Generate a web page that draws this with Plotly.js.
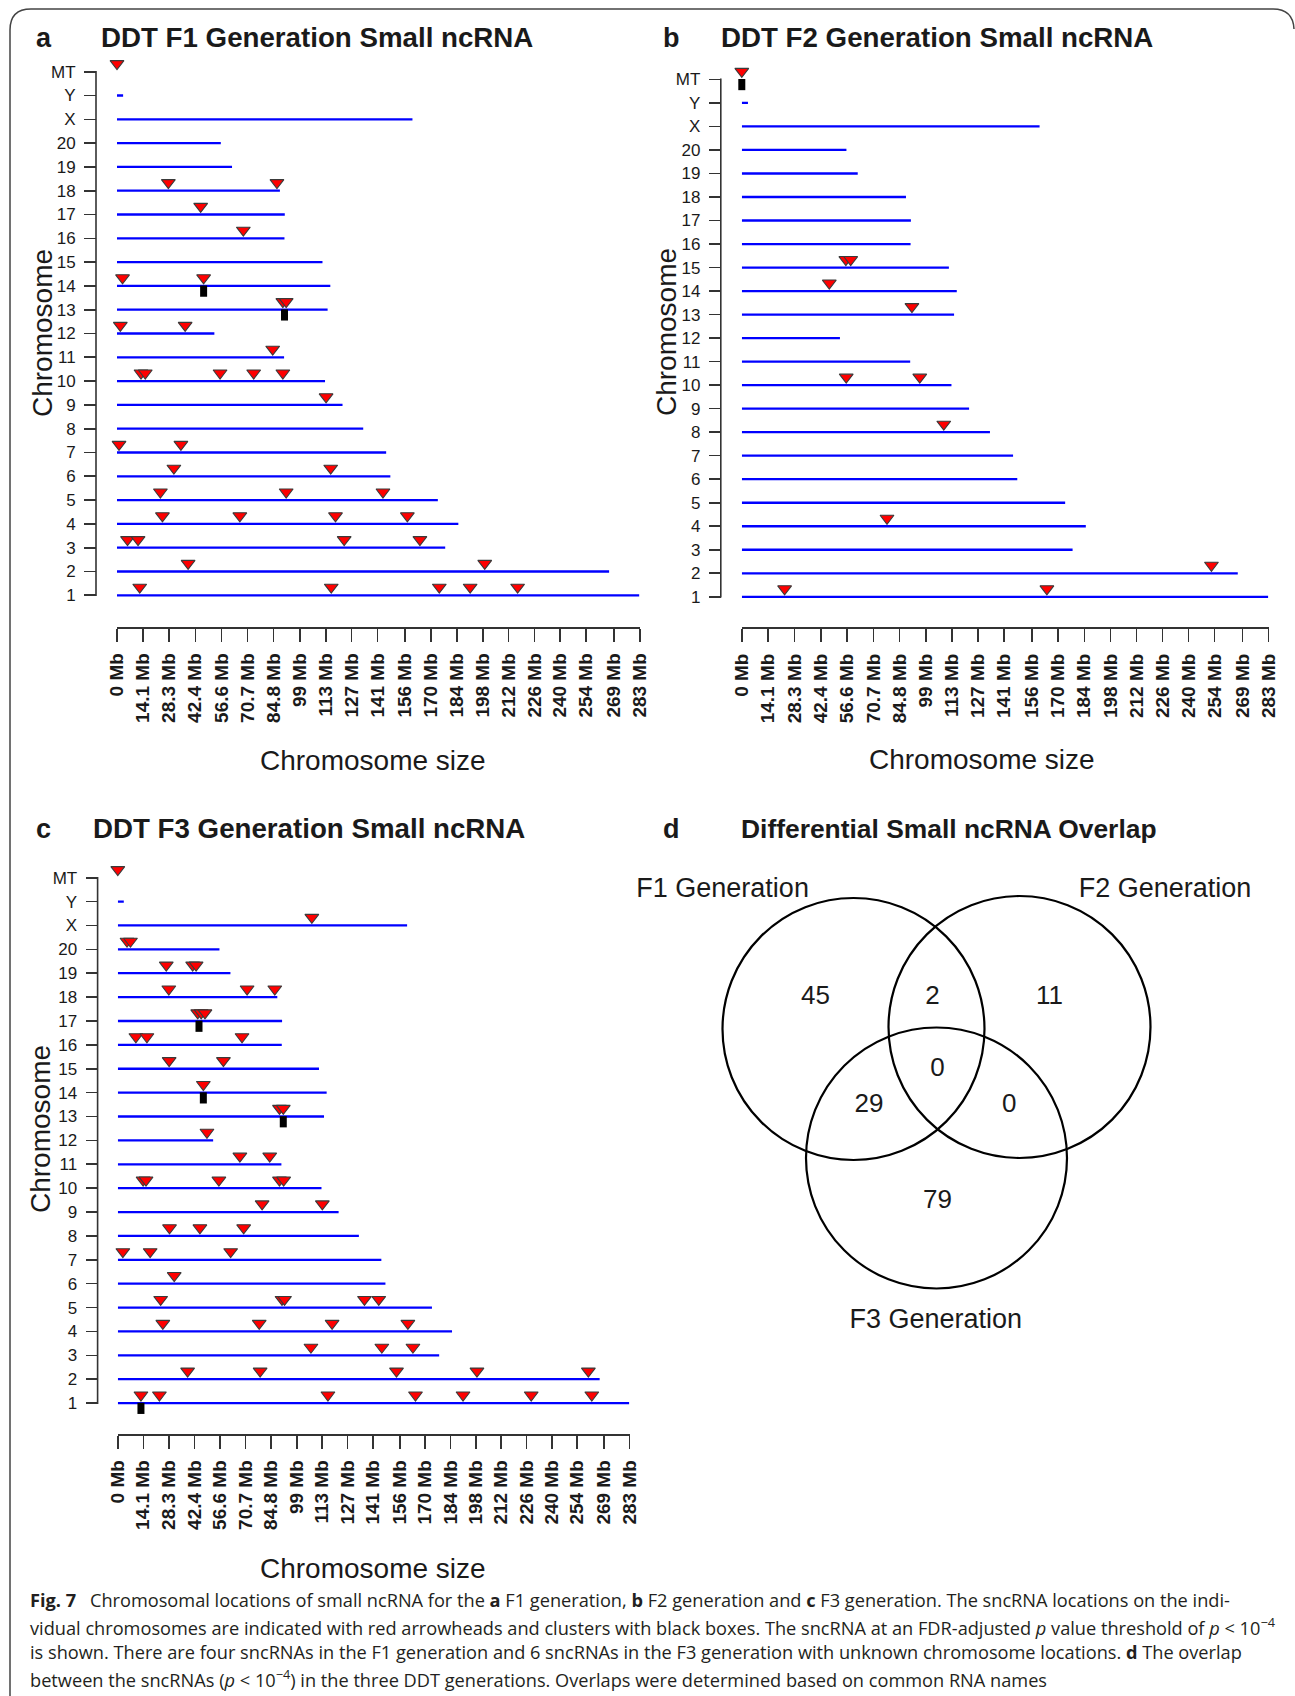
<!DOCTYPE html>
<html><head><meta charset="utf-8">
<script src="https://cdn.plot.ly/plotly-3.0.1.min.js"></script>
<style>html,body{margin:0;padding:0;background:#fff;}#chart{width:1295px;height:1696px;}</style>
</head><body><div id="chart"></div>
<script>
// ---------------- DATA ----------------
const chromLabels = ['1','2','3','4','5','6','7','8','9','10','11','12','13','14','15','16','17','18','19','20','X','Y','MT'];
const chromLengthMb = [282.76,266.44,177.70,184.81,173.71,147.99,145.73,133.31,122.10,112.63,90.46,52.72,114.03,115.49,111.25,90.67,90.84,88.20,62.28,56.21,159.97,3.31,0.016];
const sizeTickLabels = ['0 Mb','14.1 Mb','28.3 Mb','42.4 Mb','56.6 Mb','70.7 Mb','84.8 Mb','99 Mb','113 Mb','127 Mb','141 Mb','156 Mb','170 Mb','184 Mb','198 Mb','212 Mb','226 Mb','240 Mb','254 Mb','269 Mb','283 Mb'];

// F1 generation sncRNA locations
const f1Chrom = ['MT','18','18','17','16','14','14','13','13','12','12','11','10','10','10','10','10','9','7','7','6','6','5','5','5','4','4','4','4','3','3','3','3','2','2','1','1','1','1','1'];
const f1PosMb = [0,27.8,86.6,45.3,68.4,3.0,46.9,89.8,91.6,1.8,36.9,84.3,13.0,15.3,55.8,74.0,89.8,113.2,1.1,34.6,30.8,115.7,23.5,91.6,144.0,24.6,66.5,118.3,157.2,5.7,11.4,123.0,164.0,38.5,199.1,12.3,116.0,174.5,191.2,216.9];
const f1ClusterChrom = ['14','13'];
const f1ClusterPosMb = [46.9,90.7];

// F2 generation sncRNA locations
const f2Chrom = ['MT','15','15','14','13','10','10','8','4','2','1','1'];
const f2PosMb = [0,55.9,58.5,47.0,91.4,56.1,95.6,108.5,78.0,252.3,23.0,163.9];
const f2ClusterChrom = ['MT'];
const f2ClusterPosMb = [0];

// F3 generation sncRNA locations
const f3Chrom = ['MT','X','20','20','19','19','19','18','18','18','17','17','17','16','16','16','15','15','14','13','13','12','11','11','10','10','10','10','10','9','9','8','8','8','7','7','7','6','5','5','5','5','5','4','4','4','4','3','3','3','2','2','2','2','2','1','1','1','1','1','1','1'];
const f3PosMb = [0,107.3,5.1,7.0,26.8,41.4,43.3,28.2,71.5,86.8,44.2,46.1,48.2,10.0,16.1,68.7,28.4,58.4,47.3,89.4,91.5,49.3,67.5,84.0,14.0,15.6,55.9,89.4,91.7,79.8,113.1,28.6,45.4,69.6,2.8,17.9,62.4,31.2,23.7,90.8,92.2,136.4,144.3,24.9,78.2,118.5,160.4,106.8,146.0,163.2,38.6,78.7,154.1,198.6,260.2,12.8,23.0,116.2,164.6,190.9,228.6,262.1];
const f3ClusterChrom = ['17','14','13','1'];
const f3ClusterPosMb = [44.9,47.3,91.5,12.8];

// Venn diagram
const vennSets = ['F1 Generation','F2 Generation','F3 Generation'];
const vennRegions = ['F1 only','F1 & F2','F2 only','F1 & F2 & F3','F1 & F3','F2 & F3','F3 only'];
const vennCounts = [45,2,11,0,29,0,79];

// ---------------- LAYOUT HELPERS ----------------
const W = 1295, H = 1696;
const fx = p => p / W;
const fy = p => 1 - p / H;
const FONT = 'Liberation Sans, Arial, Helvetica, sans-serif';
const INK = '#1a1a1a';
const AXC = '#333333';

const panels = [
  {letter:'a', title:'DDT F1 Generation Small ncRNA', chrom:f1Chrom, pos:f1PosMb, cChrom:f1ClusterChrom, cPos:f1ClusterPosMb,
   yLineX:96, yTop:71.7, yBot:595.3, x0:117, x1:639.7, xAxisY:627, letterX:44, titleX:99, titleY:38, yTitleX:42, yTitleY:333, xTitleX:372.5, xTitleY:760},
  {letter:'b', title:'DDT F2 Generation Small ncRNA', chrom:f2Chrom, pos:f2PosMb, cChrom:f2ClusterChrom, cPos:f2ClusterPosMb,
   yLineX:720.8, yTop:79.4, yBot:596.8, x0:741.8, x1:1268.6, xAxisY:627.4, letterX:671, titleX:719, titleY:38, yTitleX:666, yTitleY:332, xTitleX:982, xTitleY:759},
  {letter:'c', title:'DDT F3 Generation Small ncRNA', chrom:f3Chrom, pos:f3PosMb, cChrom:f3ClusterChrom, cPos:f3ClusterPosMb,
   yLineX:97.6, yTop:877.7, yBot:1403.1, x0:117.8, x1:629.6, xAxisY:1434, letterX:43, titleX:91, titleY:829, yTitleX:40, yTitleY:1129, xTitleX:372.5, xTitleY:1568}
];

const traces = [];
const layout = {
  width: W, height: H,
  margin: {l:0, r:0, t:0, b:0, pad:0},
  paper_bgcolor: '#ffffff', plot_bgcolor: 'rgba(0,0,0,0)',
  showlegend: false,
  font: {family: FONT, color: INK},
  annotations: [], shapes: []
};

const chromIndex = c => chromLabels.indexOf(c) + 1;
const sizeTickVals = sizeTickLabels.map(s => parseFloat(s));
const nChrom = chromLabels.length;
const EXT = 0.7; // extra room (in rows) above MT and below chr 1 so no mark is hidden

panels.forEach((p, i) => {
  const n = i === 0 ? '' : String(i + 1);
  const xa = 'x' + n, ya = 'y' + n;
  const ppu = (p.yBot - p.yTop) / (nChrom - 1);
  // chromosome lines
  const lx = [], ly = [];
  chromLabels.forEach((c, k) => { lx.push(0, chromLengthMb[k], null); ly.push(k + 1, k + 1, null); });
  traces.push({type:'scatter', mode:'lines', x:lx, y:ly, xaxis:xa, yaxis:ya,
    line:{color:'#0000ff', width:2.3}, hoverinfo:'skip'});
  // clusters (black boxes under the arrowheads)
  traces.push({type:'scatter', mode:'markers', x:p.cPos, y:p.cChrom.map(c => chromIndex(c) - 0.22),
    xaxis:xa, yaxis:ya, cliponaxis:false,
    marker:{symbol:'line-ns', size:8, color:'#000', line:{color:'#000', width:7}}, hoverinfo:'skip'});
  // sncRNA arrowheads
  traces.push({type:'scatter', mode:'markers', x:p.pos, y:p.chrom.map(c => chromIndex(c) + 0.34),
    xaxis:xa, yaxis:ya, cliponaxis:false,
    marker:{symbol:'triangle-down', size:12, color:'#ff0000', line:{color:'#3a3a3a', width:1.1}}, hoverinfo:'skip'});

  layout['xaxis' + n] = {
    domain:[fx(p.x0), fx(p.x1)], range:[0, 283], anchor:'free', position:fy(p.xAxisY),
    showline:true, linecolor:AXC, linewidth:1.6, ticks:'outside', ticklen:13, tickwidth:1.6, tickcolor:AXC,
    tickmode:'array', tickvals:sizeTickVals, ticktext:sizeTickLabels, tickangle:-90, ticklabelstandoff:4,
    tickfont:{family:FONT, size:19, color:INK, weight:'bold'}, showgrid:false, zeroline:false, fixedrange:true
  };
  layout['yaxis' + n] = {
    domain:[fy(p.yBot + EXT * ppu), fy(p.yTop - EXT * ppu)], range:[1 - EXT, nChrom + EXT], anchor:'free', position:fx(p.yLineX),
    showline:false, ticks:'outside', ticklen:12, tickwidth:1.6, tickcolor:AXC,
    tickmode:'array', tickvals:chromLabels.map((c, k) => k + 1), ticktext:chromLabels, ticklabelstandoff:5,
    tickfont:{family:FONT, size:17, color:INK}, showgrid:false, zeroline:false, fixedrange:true
  };
  // y axis line spanning only chr 1 .. MT (as in the original R plot)
  layout.shapes.push({type:'line', xref:'paper', yref:'paper', x0:fx(p.yLineX), x1:fx(p.yLineX), y0:fy(p.yBot + 0.8), y1:fy(p.yTop - 0.8),
    line:{color:AXC, width:1.6}});
  layout.annotations.push(
    {text:'<b>' + p.letter + '</b>', x:fx(p.letterX), y:fy(p.titleY), xref:'paper', yref:'paper', xanchor:'center', yanchor:'middle', showarrow:false, font:{size:27, family:FONT, color:INK}},
    {text:'<b>' + p.title + '</b>', x:fx(p.titleX), y:fy(p.titleY), xref:'paper', yref:'paper', xanchor:'left', yanchor:'middle', showarrow:false, font:{size:27.7, family:FONT, color:INK}},
    {text:'Chromosome', x:fx(p.yTitleX), y:fy(p.yTitleY), xref:'paper', yref:'paper', xanchor:'center', yanchor:'middle', textangle:-90, showarrow:false, font:{size:28, family:FONT, color:INK}},
    {text:'Chromosome size', x:fx(p.xTitleX), y:fy(p.xTitleY), xref:'paper', yref:'paper', xanchor:'center', yanchor:'middle', showarrow:false, font:{size:28, family:FONT, color:INK}}
  );
});

// ---------------- PANEL d : Venn ----------------
const vx0 = 650, vx1 = 1295, vy0 = 790, vy1 = 1400;
layout.xaxis4 = {domain:[fx(vx0), fx(vx1)], range:[vx0, vx1], anchor:'y4', visible:false, fixedrange:true};
layout.yaxis4 = {domain:[fy(vy1), fy(vy0)], range:[vy1, vy0], anchor:'x4', visible:false, fixedrange:true};
const vennCircles = [{cx:853.5, cy:1029, r:131}, {cx:1019.5, cy:1027, r:131}, {cx:936.5, cy:1158, r:130.5}];
vennCircles.forEach(c => layout.shapes.push({type:'circle', xref:'x4', yref:'y4', x0:c.cx - c.r, x1:c.cx + c.r, y0:c.cy - c.r, y1:c.cy + c.r,
  line:{color:'#000', width:2.2}, fillcolor:'rgba(0,0,0,0)'}));
const vennCountPos = [[815.4,997],[932.4,997],[1049.4,997],[937.4,1069],[868.9,1105],[1009.3,1105],[937.4,1201]];
const vennSetPos = [[722.6,890],[1165,890],[935.7,1321]];
traces.push({type:'scatter', mode:'text', x:vennCountPos.map(q => q[0]), y:vennCountPos.map(q => q[1]), text:vennCounts.map(String),
  customdata:vennRegions, xaxis:'x4', yaxis:'y4', cliponaxis:false, textposition:'middle center',
  textfont:{family:FONT, size:26, color:INK}, hoverinfo:'skip'});
traces.push({type:'scatter', mode:'text', x:vennSetPos.map(q => q[0]), y:vennSetPos.map(q => q[1]), text:vennSets,
  xaxis:'x4', yaxis:'y4', cliponaxis:false, textposition:'middle center',
  textfont:{family:FONT, size:27, color:INK}, hoverinfo:'skip'});
layout.annotations.push(
  {text:'<b>d</b>', x:fx(671), y:fy(829), xref:'paper', yref:'paper', xanchor:'center', yanchor:'middle', showarrow:false, font:{size:27, family:FONT, color:INK}},
  {text:'<b>Differential Small ncRNA Overlap</b>', x:fx(739), y:fy(829), xref:'paper', yref:'paper', xanchor:'left', yanchor:'middle', showarrow:false, font:{size:26.4, family:FONT, color:INK}}
);

// ---------------- Frame ----------------
layout.shapes.push({type:'path', xref:'paper', yref:'paper', layer:'below',
  path:'M' + fx(10) + ',' + fy(1696) + ' L' + fx(10) + ',' + fy(30) + ' Q' + fx(10) + ',' + fy(9) + ' ' + fx(31) + ',' + fy(9) +
       ' L' + fx(1273) + ',' + fy(9) + ' Q' + fx(1293) + ',' + fy(9) + ' ' + fx(1294) + ',' + fy(29),
  line:{color:'#444', width:1.5}});

// ---------------- Caption ----------------
const captionLines = [
  '<b>Fig. 7</b>\u2002 Chromosomal locations of small ncRNA for the <b>a</b> F1 generation, <b>b</b> F2 generation and <b>c</b> F3 generation. The sncRNA locations on the indi-',
  'vidual chromosomes are indicated with red arrowheads and clusters with black boxes. The sncRNA at an FDR-adjusted <i>p</i> value threshold of <i>p</i> &lt; 10<sup>\u22124</sup>',
  'is shown. There are four sncRNAs in the F1 generation and 6 sncRNAs in the F3 generation with unknown chromosome locations. <b>d</b> The overlap',
  'between the sncRNAs (<i>p</i> &lt; 10<sup>\u22124</sup>) in the three DDT generations. Overlaps were determined based on common RNA names'
];
const captionY = [1600, 1626, 1652, 1678];
captionLines.forEach((t, k) => layout.annotations.push({text:t, x:fx(28), y:fy(captionY[k]), xref:'paper', yref:'paper',
  xanchor:'left', yanchor:'middle', showarrow:false, align:'left', font:{size:18.2, family:'Open Sans, Noto Sans, sans-serif', color:'#231f20'}}));

Plotly.newPlot('chart', traces, layout, {staticPlot:true, displayModeBar:false});
</script>
</body></html>
